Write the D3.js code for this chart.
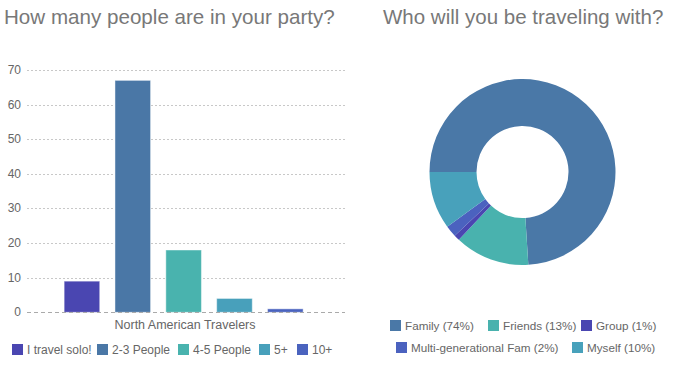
<!DOCTYPE html>
<html>
<head>
<meta charset="utf-8">
<script src="https://cdn.jsdelivr.net/npm/d3@7"></script>
<style>
  body { margin: 0; background: #fff; }
  svg text { font-family: "Liberation Sans", Arial, sans-serif; }
</style>
</head>
<body>
<div id="chart"></div>
<script>
// bar chart data
var barCategory = ["North American Travelers"];
var barSeries = ["I travel solo!", "2-3 People", "4-5 People", "5+", "10+"];
var barValues = [9, 67, 18, 4, 1];
var barColors = ["#4a46b1", "#4a77a6", "#49b3ae", "#48a0bb", "#4a63be"];
var yTicks = [0, 10, 20, 30, 40, 50, 60, 70];

// donut data
var pieLabels = ["Family (74%)", "Friends (13%)", "Group (1%)", "Multi-generational Fam (2%)", "Myself (10%)"];
var pieValues = [74, 13, 1, 2, 10];
var pieColors = ["#4a78a7", "#49b2ae", "#4a46b1", "#4b62bf", "#48a1bb"];

var W = 686, H = 389;
var svg = d3.select("#chart").append("svg")
    .attr("width", W)
    .attr("height", H);

// titles
svg.append("text").attr("x", 4).attr("y", 24)
    .attr("font-size", 20.6).attr("fill", "#787878")
    .text("How many people are in your party?");
svg.append("text").attr("x", 383).attr("y", 24)
    .attr("font-size", 20.5).attr("fill", "#787878")
    .text("Who will you be traveling with?");

// ---- bar chart ----
var plot = { left: 27, right: 345, top: 70, bottom: 312.3 };

var y = d3.scaleLinear().domain([0, 70]).range([plot.bottom, plot.top]);
var x0 = d3.scaleBand().domain(barCategory).range([plot.left, plot.right]).padding(0);
var x1 = d3.scaleBand().domain(barSeries)
    .range([0, x0.bandwidth()])
    .paddingInner(0.3)
    .paddingOuter(0.777)
    .align(0.47);

// gridlines
svg.append("g")
    .selectAll("line")
    .data(yTicks.filter(function (d) { return d > 0; }))
    .enter().append("line")
    .attr("x1", plot.left).attr("x2", plot.right)
    .attr("y1", function (d) { return Math.round(y(d)) + 0.5; })
    .attr("y2", function (d) { return Math.round(y(d)) + 0.5; })
    .attr("stroke", "#c8c8c8")
    .attr("stroke-dasharray", "2,2");

// y labels
svg.append("g")
    .selectAll("text")
    .data(yTicks)
    .enter().append("text")
    .attr("x", 21)
    .attr("y", function (d) { return y(d) + 4; })
    .attr("text-anchor", "end")
    .attr("font-size", 12)
    .attr("fill", "#666")
    .text(function (d) { return d; });

// bars
var groups = svg.selectAll(".cat")
    .data(barCategory)
    .enter().append("g")
    .attr("class", "cat")
    .attr("transform", function (d) { return "translate(" + x0(d) + ",0)"; });

groups.selectAll("rect")
    .data(function () {
        return barSeries.map(function (s, i) { return { key: s, value: barValues[i], color: barColors[i] }; });
    })
    .enter().append("rect")
    .attr("x", function (d) { return x1(d.key); })
    .attr("y", function (d) { return y(d.value); })
    .attr("width", x1.bandwidth())
    .attr("height", function (d) { return y(0) - y(d.value); })
    .attr("fill", function (d) { return d.color; })
    .attr("stroke", "rgba(255,255,255,0.45)")
    .attr("stroke-width", 1);

// baseline
svg.append("line")
    .attr("x1", plot.left).attr("x2", plot.right)
    .attr("y1", Math.round(y(0)) + 0.5).attr("y2", Math.round(y(0)) + 0.5)
    .attr("stroke", "#aaa")
    .attr("stroke-dasharray", "4,3");

// category label
svg.append("text")
    .attr("x", x0(barCategory[0]) + x0.bandwidth() / 2 - 1)
    .attr("y", 329)
    .attr("text-anchor", "middle")
    .attr("font-size", 12.5)
    .attr("fill", "#666")
    .text(barCategory[0]);

// bar legend
var barLegendX = [12, 97, 178, 259, 297];
var bl = svg.append("g").selectAll("g")
    .data(barSeries)
    .enter().append("g")
    .attr("transform", function (d, i) { return "translate(" + barLegendX[i] + ",344)"; });
bl.append("rect").attr("width", 11).attr("height", 11)
    .attr("fill", function (d, i) { return barColors[i]; });
bl.append("text").attr("x", 15).attr("y", 10)
    .attr("font-size", 12).attr("fill", "#666")
    .text(function (d) { return d; });

// ---- donut ----
var cx = 522.5, cy = 172, outerR = 93, innerR = 46;
var pie = d3.pie().sort(null)
    .startAngle(-Math.PI / 2)
    .endAngle(3 * Math.PI / 2);
var arc = d3.arc().innerRadius(innerR).outerRadius(outerR);

svg.append("g")
    .attr("transform", "translate(" + cx + "," + cy + ")")
    .selectAll("path")
    .data(pie(pieValues))
    .enter().append("path")
    .attr("d", arc)
    .attr("fill", function (d, i) { return pieColors[i]; });

// donut legend
var pieLegendPos = [[390, 320], [488, 320], [581, 320], [396, 342], [572, 342]];
var pl = svg.append("g").selectAll("g")
    .data(pieLabels)
    .enter().append("g")
    .attr("transform", function (d, i) { return "translate(" + pieLegendPos[i][0] + "," + pieLegendPos[i][1] + ")"; });
pl.append("rect").attr("width", 11).attr("height", 11)
    .attr("fill", function (d, i) { return pieColors[i]; });
pl.append("text").attr("x", 15).attr("y", 10)
    .attr("font-size", 11.7).attr("fill", "#666")
    .text(function (d) { return d; });
</script>
</body>
</html>
